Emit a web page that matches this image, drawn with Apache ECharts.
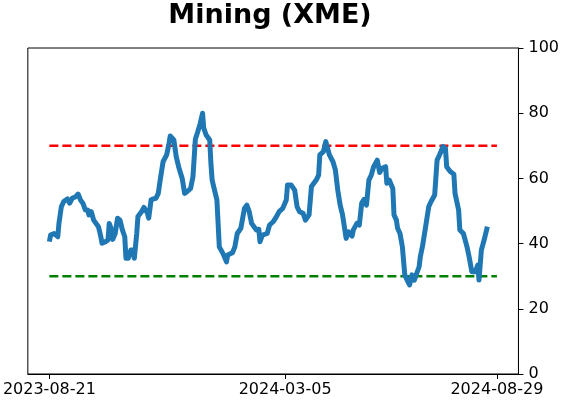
<!DOCTYPE html>
<html>
<head>
<meta charset="utf-8">
<script src="https://cdn.jsdelivr.net/npm/echarts@6/dist/echarts.min.js"></script>
<style>html,body{margin:0;padding:0;background:#fff}#c{width:562px;height:402px}</style>
</head>
<body>
<div id="c"></div>
<script>
const titleText = 'Mining (XME)';
const tickDates = ['2023-08-21', '2024-03-05', '2024-08-29'];
const yTicks = [0, 20, 40, 60, 80, 100];
const upperLevel = 70;
const lowerLevel = 30;
const dates = [
'2023-08-21','2023-08-22','2023-08-25','2023-08-28','2023-08-29','2023-08-31','2023-09-02','2023-09-05','2023-09-07','2023-09-09',
'2023-09-12','2023-09-14','2023-09-16','2023-09-18','2023-09-20','2023-09-22','2023-09-23','2023-09-25','2023-09-27','2023-10-01',
'2023-10-03','2023-10-04','2023-10-07','2023-10-09','2023-10-10','2023-10-12','2023-10-13','2023-10-15','2023-10-17','2023-10-19',
'2023-10-21','2023-10-23','2023-10-24','2023-10-26','2023-10-28','2023-10-30','2023-10-31','2023-11-02','2023-11-03','2023-11-06',
'2023-11-08','2023-11-11','2023-11-12','2023-11-14','2023-11-16','2023-11-18','2023-11-20','2023-11-22','2023-11-24','2023-11-27',
'2023-11-29','2023-11-30','2023-12-03','2023-12-05','2023-12-07','2023-12-10','2023-12-12','2023-12-14','2023-12-17','2023-12-19',
'2023-12-21','2023-12-23','2023-12-25','2023-12-27','2023-12-28','2023-12-30','2024-01-02','2024-01-03','2024-01-04','2024-01-06',
'2024-01-08','2024-01-10','2024-01-13','2024-01-16','2024-01-17','2024-01-21','2024-01-23','2024-01-25','2024-01-28','2024-01-31',
'2024-02-02','2024-02-04','2024-02-06','2024-02-08','2024-02-10','2024-02-12','2024-02-13','2024-02-15','2024-02-19','2024-02-21',
'2024-02-24','2024-02-26','2024-02-29','2024-03-03','2024-03-06','2024-03-07','2024-03-10','2024-03-13','2024-03-15','2024-03-17',
'2024-03-20','2024-03-22','2024-03-25','2024-03-27','2024-03-31','2024-04-02','2024-04-03','2024-04-06','2024-04-08','2024-04-09',
'2024-04-11','2024-04-14','2024-04-16','2024-04-18','2024-04-20','2024-04-22','2024-04-25','2024-04-27','2024-04-30','2024-05-01',
'2024-05-04','2024-05-06','2024-05-08','2024-05-10','2024-05-12','2024-05-14','2024-05-16','2024-05-18','2024-05-21','2024-05-23',
'2024-05-25','2024-05-28','2024-05-29','2024-05-31','2024-06-03','2024-06-04','2024-06-06','2024-06-07','2024-06-09','2024-06-11',
'2024-06-13','2024-06-15','2024-06-17','2024-06-19','2024-06-21','2024-06-23','2024-06-25','2024-06-26','2024-06-28','2024-06-30',
'2024-07-03','2024-07-05','2024-07-08','2024-07-10','2024-07-12','2024-07-15','2024-07-17','2024-07-18','2024-07-21','2024-07-24',
'2024-07-25','2024-07-28','2024-07-29','2024-08-01','2024-08-04','2024-08-06','2024-08-08','2024-08-11','2024-08-13','2024-08-14',
'2024-08-16','2024-08-19','2024-08-21'
];
const values = [
40.6,42.6,43.1,42.1,46.2,51.3,52.9,53.7,52.4,53.9,
54.4,55.2,53.4,52.4,50.3,50.3,48.8,49.8,47.2,45.2,
42.1,40.1,40.6,41.1,46.2,44.2,41.3,43.1,47.8,47.2,
44.2,42.1,35.5,35.5,38.0,38.0,35.5,43.1,48.3,49.8,
51.1,49.3,47.8,53.4,53.7,53.9,55.4,60.5,65.1,67.2,
70.8,73.0,71.8,66.7,63.6,60.0,55.4,55.9,56.9,60.5,
72.0,74.3,76.8,80.0,75.4,73.3,71.8,64.6,59.5,56.4,
53.4,39.0,37.0,34.4,36.5,37.2,39.0,43.1,44.7,50.8,
51.8,49.8,46.2,45.2,44.2,44.4,40.6,42.6,43.1,45.7,
46.7,47.8,49.8,50.8,53.4,58.0,58.0,56.4,51.3,49.8,
49.3,47.2,48.8,57.5,59.5,61.0,67.2,68.2,71.3,71.8,
67.2,65.1,62.6,56.4,51.8,48.8,41.6,43.6,42.3,44.2,
46.2,45.7,52.4,53.6,51.8,59.5,61.0,63.6,65.6,61.8,
63.1,63.6,58.5,59.5,56.9,48.8,47.2,44.7,43.1,39.0,
30.4,28.8,27.3,30.4,28.8,30.9,32.9,36.0,39.6,44.2,
51.3,52.9,54.9,65.6,67.2,69.8,69.2,63.6,62.1,61.3,
55.4,50.3,44.2,43.1,39.0,35.5,31.4,31.4,33.4,28.8,
38.0,42.1,45.2
];

function ts(s) { const p = s.split('-').map(Number); return Date.UTC(p[0], p[1] - 1, p[2]); }
function pad(n) { return (n < 10 ? '0' : '') + n; }
function fmt(v) { const d = new Date(v); return d.getUTCFullYear() + '-' + pad(d.getUTCMonth() + 1) + '-' + pad(d.getUTCDate()); }

const tickTs = tickDates.map(ts);
const xMin = ts('2023-08-03');
const xMax = ts('2024-09-16');

const chart = echarts.init(document.getElementById('c'), null, { renderer: 'canvas' });
const font = 'DejaVu Sans';
chart.setOption({
  animation: false,
  backgroundColor: '#fff',
  title: {
    text: titleText,
    left: 265, top: -3, textAlign: 'center',
    textStyle: { fontFamily: font, fontWeight: 'bold', fontSize: 27, color: '#000' }
  },
  grid: { left: 26.5, right: 41, top: 48, bottom: 28, show: true, borderColor: '#000', borderWidth: 1, backgroundColor: 'transparent' },
  xAxis: {
    type: 'value', min: xMin, max: xMax,
    axisLine: { show: true, lineStyle: { color: '#000', width: 1 } },
    axisTick: { show: true, length: 5, lineStyle: { color: '#000', width: 1 }, customValues: tickTs },
    axisLabel: { show: true, customValues: tickTs, formatter: v => fmt(v), color: '#000', fontFamily: font, fontSize: 16, margin: 8 },
    splitLine: { show: false }
  },
  yAxis: {
    type: 'value', position: 'right', min: yTicks[0], max: yTicks[yTicks.length - 1], interval: 20,
    axisLine: { show: true, lineStyle: { color: '#000', width: 1 } },
    axisTick: { show: true, length: 5, lineStyle: { color: '#000', width: 1 } },
    axisLabel: { color: '#000', fontFamily: font, fontSize: 16, margin: 10 },
    splitLine: { show: false }
  },
  series: [
    { type: 'line', data: [[tickTs[0], upperLevel], [tickTs[2], upperLevel]], symbol: 'none', silent: true, z: 1,
      lineStyle: { color: '#ff0000', width: 2.5, type: [9, 4] } },
    { type: 'line', data: [[tickTs[0], lowerLevel], [tickTs[2], lowerLevel]], symbol: 'none', silent: true, z: 1,
      lineStyle: { color: '#008000', width: 2.5, type: [9, 4] } },
    { type: 'line', data: dates.map((d, i) => [ts(d), values[i]]), symbol: 'none', z: 3,
      lineStyle: { color: '#1f77b4', width: 5, join: 'round', cap: 'butt' } }
  ]
});
</script>
</body>
</html>
